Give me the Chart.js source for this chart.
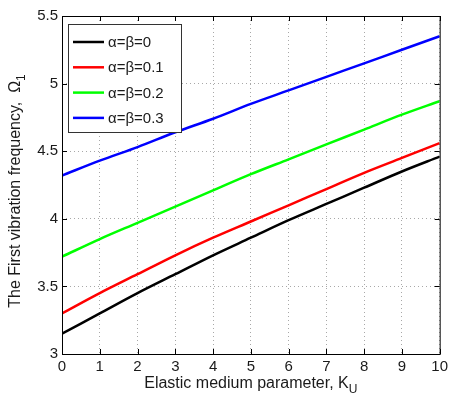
<!DOCTYPE html>
<html>
<head>
<meta charset="utf-8">
<script src="https://cdn.jsdelivr.net/npm/chart.js@4"></script>
<style>
  html, body { margin: 0; padding: 0; background: #fff; }
  #wrap { width: 452px; height: 399px; }
</style>
</head>
<body>
<div id="wrap"><canvas id="freqChart" width="452" height="399"></canvas></div>
<script>
    // elastic medium parameter K_U
    const kuValues = [0, 1, 2, 3, 4, 5, 6, 7, 8, 9, 10];

    // first vibration frequency for each alpha = beta
    const omegaAB0  = [3.15, 3.30, 3.45, 3.59, 3.73, 3.86, 3.99, 4.11, 4.23, 4.35, 4.46];
    const omegaAB01 = [3.30, 3.45, 3.59, 3.73, 3.86, 3.98, 4.10, 4.22, 4.34, 4.45, 4.56];
    const omegaAB02 = [3.72, 3.85, 3.97, 4.09, 4.21, 4.33, 4.44, 4.55, 4.66, 4.77, 4.87];
    const omegaAB03 = [4.32, 4.43, 4.53, 4.64, 4.74, 4.85, 4.95, 5.05, 5.15, 5.25, 5.35];

    const seriesLabels = ['α=β=0', 'α=β=0.1', 'α=β=0.2', 'α=β=0.3'];
    const seriesColors = ['#000000', '#ff0000', '#00ff00', '#0000ff'];
    const seriesData = [omegaAB0, omegaAB01, omegaAB02, omegaAB03];

    const FONT = '"Liberation Sans", Arial, sans-serif';

    // box, inward ticks, axis titles and legend drawn MATLAB style
    const matlabAxes = {
      id: 'matlabAxes',
      afterDraw(chart) {
        const { ctx, chartArea: a, scales: { x, y } } = chart;
        ctx.save();
        ctx.strokeStyle = '#000';
        ctx.lineWidth = 1;
        ctx.strokeRect(a.left + 0.5, a.top + 0.5, a.right - a.left, a.bottom - a.top);

        // inward ticks on all four sides
        const len = 5;
        ctx.beginPath();
        x.ticks.forEach(t => {
          const px = Math.round(x.getPixelForValue(t.value)) + 0.5;
          ctx.moveTo(px, a.bottom); ctx.lineTo(px, a.bottom - len);
          ctx.moveTo(px, a.top); ctx.lineTo(px, a.top + len);
        });
        y.ticks.forEach(t => {
          const py = Math.round(y.getPixelForValue(t.value)) + 0.5;
          ctx.moveTo(a.left, py); ctx.lineTo(a.left + len, py);
          ctx.moveTo(a.right, py); ctx.lineTo(a.right - len, py);
        });
        ctx.stroke();

        // x axis title with subscript U
        ctx.fillStyle = '#1a1a1a';
        ctx.textBaseline = 'alphabetic';
        const xMain = 'Elastic medium parameter, K';
        ctx.font = '12px ' + FONT;
        const subW = ctx.measureText('U').width;
        ctx.font = '16px ' + FONT;
        const mainW = ctx.measureText(xMain).width;
        const cx = (a.left + a.right) / 2;
        const sx = cx - (mainW + subW) / 2;
        ctx.textAlign = 'left';
        ctx.fillText(xMain, sx, 388);
        ctx.font = '12px ' + FONT;
        ctx.fillText('U', sx + mainW, 393);

        // y axis title with subscript 1
        ctx.save();
        ctx.translate(20, (a.top + a.bottom) / 2 + 6);
        ctx.rotate(-Math.PI / 2);
        ctx.font = '16px ' + FONT;
        const yMain = 'The First vibration frequency,  Ω';
        const yW = ctx.measureText(yMain).width;
        ctx.font = '12px ' + FONT;
        const y1W = ctx.measureText('1').width;
        const sy = -(yW + y1W) / 2;
        ctx.font = '16px ' + FONT;
        ctx.fillText(yMain, sy, 0);
        ctx.font = '12px ' + FONT;
        ctx.fillText('1', sy + yW, 5);
        ctx.restore();

        // legend box in upper left
        const lx = 68, ly = 24, lw = 113, lh = 108;
        ctx.fillStyle = '#fff';
        ctx.fillRect(lx, ly, lw, lh);
        ctx.strokeStyle = '#333';
        ctx.strokeRect(lx + 0.5, ly + 0.5, lw, lh);
        chart.data.datasets.forEach((ds, i) => {
          const rowY = 42 + i * 25.3;
          ctx.strokeStyle = ds.borderColor;
          ctx.lineWidth = 2.5;
          ctx.beginPath();
          ctx.moveTo(73, rowY); ctx.lineTo(104, rowY);
          ctx.stroke();
          ctx.fillStyle = '#1a1a1a';
          ctx.font = '15px ' + FONT;
          ctx.textBaseline = 'middle';
          ctx.fillText(ds.label, 108, rowY + 1);
        });
        ctx.restore();
      }
    };

    const freqChart = new Chart(document.getElementById('freqChart'), {
      type: 'line',
      data: {
        labels: kuValues,
        datasets: seriesData.map((vals, i) => ({
          label: seriesLabels[i],
          data: vals.map((v, j) => ({ x: kuValues[j], y: v })),
          borderColor: seriesColors[i],
          backgroundColor: seriesColors[i],
          borderWidth: 2.5,
          pointRadius: 0,
          cubicInterpolationMode: 'monotone',
          fill: false
        }))
      },
      options: {
        responsive: false,
        animation: false,
        devicePixelRatio: 1,
        layout: { padding: { left: 0, right: 9, top: 16, bottom: 0 } },
        plugins: {
          legend: { display: false },
          tooltip: { enabled: false }
        },
        scales: {
          x: {
            type: 'linear',
            min: 0, max: 10,
            afterFit: s => { s.height = 45; },
            ticks: { stepSize: 1, color: '#1a1a1a', font: { family: FONT, size: 15 }, padding: 4, maxRotation: 0 },
            grid: { color: '#a8a8a8', lineWidth: 1, drawTicks: false },
            border: { display: false, dash: [1, 3] }
          },
          y: {
            min: 3, max: 5.5,
            afterFit: s => { s.width = 62; },
            ticks: { stepSize: 0.5, color: '#1a1a1a', font: { family: FONT, size: 15 }, padding: 4,
                     callback: v => String(v) },
            grid: { color: '#a8a8a8', lineWidth: 1, drawTicks: false },
            border: { display: false, dash: [1, 3] }
          }
        }
      },
      plugins: [matlabAxes]
    });
</script>
</body>
</html>
